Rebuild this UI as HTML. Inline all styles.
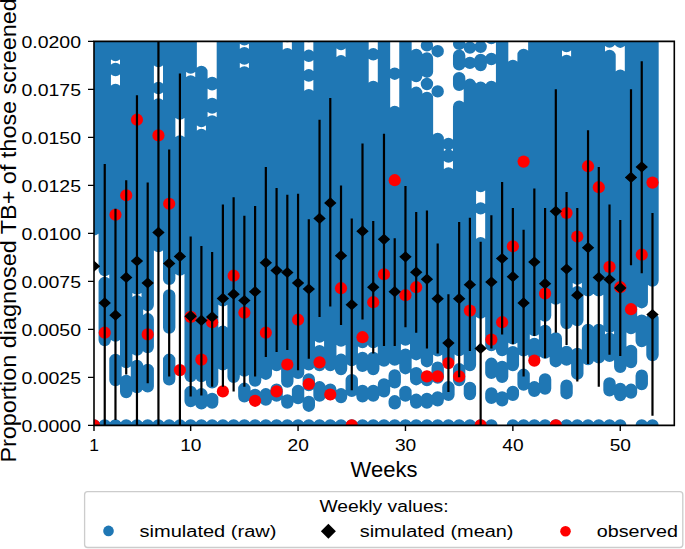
<!DOCTYPE html>
<html><head><meta charset="utf-8">
<style>
html,body{margin:0;padding:0;background:#fff;}
body{width:685px;height:549px;overflow:hidden;}
svg{display:block;}
text{font-family:"Liberation Sans",sans-serif;fill:#000;}
</style></head>
<body>
<svg width="685" height="549" viewBox="0 0 685 549">
<defs><clipPath id="ax"><rect x="94" y="41.4" width="580.3" height="384"/></clipPath></defs>
<rect x="0" y="0" width="685" height="549" fill="#fff"/>
<g clip-path="url(#ax)">
<path d="M94.00 20.0V229.4M104.74 20.0V270.0M104.74 283.0V340.0M115.48 20.0V55.0M115.48 69.0V70.0M115.48 90.0V335.5M115.48 360.0V380.0M126.22 20.0V362.0M126.22 381.0V392.0M136.96 20.0V288.6M136.96 301.3V349.6M136.96 366.0V387.0M147.70 20.0V305.0M147.70 319.3V347.0M147.70 370.0V386.4M158.44 20.0V61.0M158.44 88.0V88.0M158.44 104.5V246.0M169.18 20.0V278.9M169.18 295.4V327.5M169.18 359.8V379.3M179.92 20.0V113.6M179.92 141.4V269.5M190.66 20.0V67.6M190.66 81.4V376.0M190.66 392.0V401.0M201.40 72.0V121.0M201.40 135.0V376.0M201.40 394.3V403.4M212.14 83.0V84.3M212.14 104.0V107.6M212.14 121.4V382.3M212.14 399.0V402.6M222.88 20.0V300.4M222.88 331.8V364.3M233.62 20.0V376.8M244.36 20.0V39.3M244.36 53.1V58.6M244.36 72.4V370.6M244.36 388.8V396.3M255.10 20.0V380.5M255.10 395.0V400.0M265.84 20.0V373.7M265.84 394.3V399.5M276.58 20.0V365.0M276.58 389.6V395.6M287.32 20.0V36.0M287.32 54.2V381.5M287.32 400.5V402.6M298.06 20.0V372.9M298.06 391.0V398.0M308.80 20.0V36.0M308.80 55.8V55.8M308.80 75.3V75.6M308.80 95.1V364.3M308.80 379.4V385.0M308.80 402.0V405.7M319.54 20.0V336.6M319.54 351.2V365.0M319.54 387.3V395.6M330.28 20.0V365.0M330.28 389.6V394.0M341.02 20.0V44.1M341.02 61.3V340.5M341.02 359.8V369.0M341.02 394.3V397.0M351.76 20.0V360.0M351.76 380.2V390.9M362.50 20.0V342.0M362.50 358.0V365.9M362.50 391.0V396.3M373.24 54.3V54.3M373.24 86.9V342.0M373.24 358.0V369.0M373.24 391.0V395.6M383.98 20.0V360.5M383.98 384.5V391.3M394.72 73.7V73.7M394.72 112.0V359.6M394.72 375.5V382.3M394.72 401.3V403.4M405.46 20.0V339.6M405.46 354.7V368.2M405.46 392.0V395.6M416.20 54.9V76.0M416.20 92.8V354.2M416.20 373.2V379.2M416.20 399.8V402.6M426.94 45.4V45.4M426.94 58.5V71.7M426.94 84.0V84.0M426.94 98.0V361.2M426.94 377.0V380.0M426.94 399.0V402.6M437.68 51.2V51.2M437.68 91.4V91.4M437.68 139.0V350.3M437.68 367.7V377.6M437.68 397.4V400.3M448.42 144.0V144.0M448.42 155.4V156.6M448.42 173.4V360.0M448.42 387.3V394.8M459.16 43.9V43.9M459.16 55.6V64.4M459.16 78.2V84.8M459.16 106.7V350.0M459.16 369.3V380.0M469.90 47.6V47.6M469.90 62.9V62.9M469.90 84.8V365.0M469.90 388.0V394.0M480.64 46.8V46.8M480.64 60.0V65.0M480.64 87.7V186.0M480.64 208.4V208.4M480.64 243.1V312.5M491.38 20.0V38.0M491.38 59.0V59.0M491.38 87.0V345.0M491.38 363.8V372.9M491.38 393.5V397.9M502.12 20.0V350.0M502.12 367.0V376.8M502.12 397.4V400.3M512.86 66.0V338.3M512.86 352.2V365.0M512.86 392.0V394.8M523.60 55.0V350.4M523.60 374.8V384.6M534.34 20.0V330.0M534.34 344.0V355.0M534.34 387.3V390.9M545.08 20.0V315.6M545.08 331.0V352.6M545.08 379.4V388.5M555.82 20.0V298.6M555.82 338.5V361.2M566.56 20.0V46.0M566.56 61.0V323.0M566.56 352.0V359.6M566.56 385.7V393.2M577.30 20.0V278.6M577.30 292.1V320.0M577.30 354.0V373.7M588.04 20.0V290.3M588.04 330.0V359.0M598.78 20.0V290.3M598.78 330.0V357.4M609.52 20.0V41.6M609.52 56.0V326.9M609.52 338.6V355.9M609.52 383.5V390.3M620.26 20.0V41.7M620.26 75.6V366.8M620.26 389.0V395.0M631.00 20.0V328.0M631.00 351.0V362.0M631.00 389.8V392.6M641.74 20.0V302.2M641.74 320.6V341.0M641.74 375.7V384.0M652.48 20.0V280.6M652.48 319.0V355.1M104.74 425.4V425.4M115.48 425.4V425.4M126.22 425.4V425.4M136.96 425.4V425.4M147.70 425.4V425.4M158.44 425.4V425.4M169.18 425.4V425.4M179.92 425.4V425.4M190.66 425.4V425.4M201.40 425.4V425.4M212.14 425.4V425.4M222.88 425.4V425.4M233.62 425.4V425.4M244.36 425.4V425.4M255.10 425.4V425.4M265.84 425.4V425.4M276.58 425.4V425.4M287.32 425.4V425.4M298.06 425.4V425.4M308.80 425.4V425.4M319.54 425.4V425.4M330.28 425.4V425.4M341.02 425.4V425.4M351.76 425.4V425.4M362.50 425.4V425.4M373.24 425.4V425.4M383.98 425.4V425.4M394.72 425.4V425.4M405.46 425.4V425.4M416.20 425.4V425.4M426.94 425.4V425.4M437.68 425.4V425.4M448.42 425.4V425.4M459.16 425.4V425.4M469.90 425.4V425.4M480.64 425.4V425.4M491.38 425.4V425.4M512.86 425.4V425.4M523.60 425.4V425.4M534.34 425.4V425.4M545.08 425.4V425.4M555.82 425.4V425.4M566.56 425.4V425.4M577.30 425.4V425.4M588.04 425.4V425.4M598.78 425.4V425.4M609.52 425.4V425.4M620.26 425.4V425.4M641.74 425.4V425.4M652.48 425.4V425.4M94.00 425.4V425.4M351.76 425.4V425.4M480.64 425.4V425.4M555.82 425.4V425.4" stroke="#1f77b4" stroke-width="12.4" stroke-linecap="round" fill="none"/>
<g fill="#ff0000"><circle cx="94.00" cy="425.3" r="6.1"/><circle cx="104.74" cy="332.7" r="6.1"/><circle cx="115.48" cy="214.8" r="6.1"/><circle cx="126.22" cy="195.3" r="6.1"/><circle cx="136.96" cy="119.7" r="6.1"/><circle cx="147.70" cy="334.4" r="6.1"/><circle cx="158.44" cy="135.4" r="6.1"/><circle cx="169.18" cy="203.8" r="6.1"/><circle cx="179.92" cy="370.1" r="6.1"/><circle cx="190.66" cy="316.9" r="6.1"/><circle cx="201.40" cy="359.6" r="6.1"/><circle cx="212.14" cy="322.2" r="6.1"/><circle cx="222.88" cy="391.4" r="6.1"/><circle cx="233.62" cy="275.7" r="6.1"/><circle cx="244.36" cy="312.7" r="6.1"/><circle cx="255.10" cy="400.8" r="6.1"/><circle cx="265.84" cy="332.7" r="6.1"/><circle cx="276.58" cy="391.4" r="6.1"/><circle cx="287.32" cy="364.5" r="6.1"/><circle cx="298.06" cy="319.7" r="6.1"/><circle cx="308.80" cy="384.0" r="6.1"/><circle cx="319.54" cy="362.4" r="6.1"/><circle cx="330.28" cy="394.5" r="6.1"/><circle cx="341.02" cy="288.2" r="6.1"/><circle cx="351.76" cy="425.3" r="6.1"/><circle cx="362.50" cy="337.2" r="6.1"/><circle cx="373.24" cy="302.2" r="6.1"/><circle cx="383.98" cy="274.3" r="6.1"/><circle cx="394.72" cy="180.2" r="6.1"/><circle cx="405.46" cy="295.2" r="6.1"/><circle cx="416.20" cy="287.2" r="6.1"/><circle cx="426.94" cy="376.4" r="6.1"/><circle cx="437.68" cy="376.4" r="6.1"/><circle cx="448.42" cy="363.1" r="6.1"/><circle cx="459.16" cy="376.4" r="6.1"/><circle cx="469.90" cy="310.6" r="6.1"/><circle cx="480.64" cy="425.3" r="6.1"/><circle cx="491.38" cy="339.6" r="6.1"/><circle cx="502.12" cy="322.2" r="6.1"/><circle cx="512.86" cy="246.3" r="6.1"/><circle cx="523.60" cy="161.6" r="6.1"/><circle cx="534.34" cy="360.6" r="6.1"/><circle cx="545.08" cy="293.5" r="6.1"/><circle cx="555.82" cy="425.3" r="6.1"/><circle cx="566.56" cy="213.0" r="6.1"/><circle cx="577.30" cy="236.5" r="6.1"/><circle cx="588.04" cy="166.2" r="6.1"/><circle cx="598.78" cy="187.2" r="6.1"/><circle cx="609.52" cy="266.9" r="6.1"/><circle cx="620.26" cy="287.2" r="6.1"/><circle cx="631.00" cy="309.2" r="6.1"/><circle cx="641.74" cy="254.7" r="6.1"/><circle cx="652.48" cy="182.6" r="6.1"/></g>
<path d="M104.74 164.1V425.3M115.48 208.8V420.0M126.22 180.2V374.6M136.96 95.2V425.3M147.70 182.6V383.3M158.44 41.0V425.3M169.18 149.4V376.4M179.92 73.5V425.3M190.66 236.4V396.4M201.40 246.0V395.6M212.14 252.0V386.8M222.88 204.6V386.8M233.62 197.3V391.4M244.36 215.8V386.8M255.10 206.0V376.4M265.84 166.9V357.1M276.58 187.9V351.9M287.32 194.8V350.1M298.06 193.8V370.2M308.80 219.3V358.8M319.54 119.7V316.9M330.28 98.0V306.4M341.02 185.4V325.0M351.76 218.6V390.3M362.50 143.4V319.5M373.24 221.0V353.5M383.98 133.7V345.9M394.72 238.2V345.9M405.46 186.1V327.3M416.20 212.0V332.8M426.94 210.4V348.4M437.68 243.5V353.6M448.42 294.2V392.1M459.16 222.0V377.2M469.90 217.7V351.1M480.64 241.7V425.3M491.38 215.2V348.4M502.12 181.9V334.4M512.86 208.1V344.2M523.60 229.8V376.4M534.34 188.6V336.1M545.08 208.1V358.2M555.82 89.3V332.7M566.56 192.0V344.9M577.30 208.1V381.6M588.04 130.2V364.1M598.78 166.9V386.8M609.52 204.6V354.7M620.26 220.0V356.1M631.00 89.3V265.2M641.74 61.3V273.2M652.48 213.0V415.8" stroke="#000" stroke-width="2.2" fill="none"/>
<path d="M94.00 260.6L100.20 266.2L94.00 271.8L87.80 266.2ZM104.74 297.3L110.94 302.9L104.74 308.5L98.54 302.9ZM115.48 309.6L121.68 315.2L115.48 320.8L109.28 315.2ZM126.22 271.8L132.42 277.4L126.22 283.0L120.02 277.4ZM136.96 255.4L143.16 261.0L136.96 266.6L130.76 261.0ZM147.70 277.4L153.90 283.0L147.70 288.6L141.50 283.0ZM158.44 226.8L164.64 232.4L158.44 238.0L152.24 232.4ZM169.18 257.8L175.38 263.4L169.18 269.0L162.98 263.4ZM179.92 250.8L186.12 256.4L179.92 262.0L173.72 256.4ZM190.66 310.6L196.86 316.2L190.66 321.8L184.46 316.2ZM201.40 314.8L207.60 320.4L201.40 326.0L195.20 320.4ZM212.14 311.3L218.34 316.9L212.14 322.5L205.94 316.9ZM222.88 292.8L229.08 298.4L222.88 304.0L216.68 298.4ZM233.62 288.6L239.82 294.2L233.62 299.8L227.42 294.2ZM244.36 294.9L250.56 300.5L244.36 306.1L238.16 300.5ZM255.10 286.1L261.30 291.7L255.10 297.3L248.90 291.7ZM265.84 257.1L272.04 262.7L265.84 268.3L259.64 262.7ZM276.58 264.8L282.78 270.4L276.58 276.0L270.38 270.4ZM287.32 266.9L293.52 272.5L287.32 278.1L281.12 272.5ZM298.06 277.4L304.26 283.0L298.06 288.6L291.86 283.0ZM308.80 283.4L315.00 289.0L308.80 294.6L302.60 289.0ZM319.54 212.8L325.74 218.4L319.54 224.0L313.34 218.4ZM330.28 197.3L336.48 202.9L330.28 208.5L324.08 202.9ZM341.02 250.1L347.22 255.7L341.02 261.3L334.82 255.7ZM351.76 299.1L357.96 304.7L351.76 310.3L345.56 304.7ZM362.50 225.6L368.70 231.2L362.50 236.8L356.30 231.2ZM373.24 281.6L379.44 287.2L373.24 292.8L367.04 287.2ZM383.98 233.7L390.18 239.3L383.98 244.9L377.78 239.3ZM394.72 286.1L400.92 291.7L394.72 297.3L388.52 291.7ZM405.46 251.2L411.66 256.8L405.46 262.4L399.26 256.8ZM416.20 266.6L422.40 272.2L416.20 277.8L410.00 272.2ZM426.94 273.6L433.14 279.2L426.94 284.8L420.74 279.2ZM437.68 293.1L443.88 298.7L437.68 304.3L431.48 298.7ZM448.42 337.5L454.62 343.1L448.42 348.7L442.22 343.1ZM459.16 293.1L465.36 298.7L459.16 304.3L452.96 298.7ZM469.90 279.1L476.10 284.7L469.90 290.3L463.70 284.7ZM480.64 342.8L486.84 348.4L480.64 354.0L474.44 348.4ZM491.38 276.4L497.58 282.0L491.38 287.6L485.18 282.0ZM502.12 252.9L508.32 258.5L502.12 264.1L495.92 258.5ZM512.86 271.1L519.06 276.7L512.86 282.3L506.66 276.7ZM523.60 297.3L529.80 302.9L523.60 308.5L517.40 302.9ZM534.34 256.4L540.54 262.0L534.34 267.6L528.14 262.0ZM545.08 278.1L551.28 283.7L545.08 289.3L538.88 283.7ZM555.82 205.7L562.02 211.3L555.82 216.9L549.62 211.3ZM566.56 263.4L572.76 269.0L566.56 274.6L560.36 269.0ZM577.30 289.6L583.50 295.2L577.30 300.8L571.10 295.2ZM588.04 242.1L594.24 247.7L588.04 253.3L581.84 247.7ZM598.78 271.8L604.98 277.4L598.78 283.0L592.58 277.4ZM609.52 273.9L615.72 279.5L609.52 285.1L603.32 279.5ZM620.26 282.3L626.46 287.9L620.26 293.5L614.06 287.9ZM631.00 171.8L637.20 177.4L631.00 183.0L624.80 177.4ZM641.74 161.3L647.94 166.9L641.74 172.5L635.54 166.9ZM652.48 308.9L658.68 314.5L652.48 320.1L646.28 314.5Z" fill="#000"/>
</g>
<!-- spines -->
<path d="M94 40.6V426.2M674.3 40.6V426.2M93.2 41.4H675.1M93.2 425.4H675.1" stroke="#000" stroke-width="1.6" fill="none"/>
<!-- y ticks -->
<path d="M88.0 425.4H94M88.0 377.4H94M88.0 329.4H94M88.0 281.4H94M88.0 233.4H94M88.0 185.4H94M88.0 137.4H94M88.0 89.4H94M88.0 41.4H94" stroke="#000" stroke-width="1.4"/>
<!-- x ticks -->
<path d="M94 425.3V430.9M190.66 425.3V430.9M298.06 425.3V430.9M405.46 425.3V430.9M512.86 425.3V430.9M620.26 425.3V430.9" stroke="#000" stroke-width="1.4"/>
<g font-size="17.4" text-anchor="end">
<text x="81.0" y="432.1" textLength="59.6" lengthAdjust="spacingAndGlyphs">0.0000</text>
<text x="81.0" y="384.1" textLength="59.6" lengthAdjust="spacingAndGlyphs">0.0025</text>
<text x="81.0" y="336.1" textLength="59.6" lengthAdjust="spacingAndGlyphs">0.0050</text>
<text x="81.0" y="288.1" textLength="59.6" lengthAdjust="spacingAndGlyphs">0.0075</text>
<text x="81.0" y="240.0" textLength="59.6" lengthAdjust="spacingAndGlyphs">0.0100</text>
<text x="81.0" y="192.0" textLength="59.6" lengthAdjust="spacingAndGlyphs">0.0125</text>
<text x="81.0" y="144.0" textLength="59.6" lengthAdjust="spacingAndGlyphs">0.0150</text>
<text x="81.0" y="96.0" textLength="59.6" lengthAdjust="spacingAndGlyphs">0.0175</text>
<text x="81.0" y="48.0" textLength="59.6" lengthAdjust="spacingAndGlyphs">0.0200</text>
</g>
<g font-size="17.4" text-anchor="middle">
<text x="94" y="450.7">1</text>
<text x="190.8" y="450.7" textLength="21.3" lengthAdjust="spacingAndGlyphs">10</text>
<text x="298.16" y="450.7" textLength="21.3" lengthAdjust="spacingAndGlyphs">20</text>
<text x="405.56" y="450.7" textLength="21.3" lengthAdjust="spacingAndGlyphs">30</text>
<text x="512.96" y="450.7" textLength="21.3" lengthAdjust="spacingAndGlyphs">40</text>
<text x="620.36" y="450.7" textLength="21.3" lengthAdjust="spacingAndGlyphs">50</text>
</g>
<text x="384" y="476.5" font-size="21.8" text-anchor="middle" textLength="66.8" lengthAdjust="spacingAndGlyphs">Weeks</text>
<text transform="translate(16.4,230.4) rotate(-90)" font-size="21.8" text-anchor="middle" textLength="464.4" lengthAdjust="spacingAndGlyphs">Proportion diagnosed TB+ of those screened</text>
<!-- legend -->
<rect x="84.6" y="491.7" width="598.2" height="55.8" rx="3" ry="3" fill="#fff" fill-opacity="0.8" stroke="#cccccc" stroke-width="1.33"/>
<text x="384" y="511.8" font-size="17.3" text-anchor="middle" textLength="129.2" lengthAdjust="spacingAndGlyphs">Weekly values:</text>
<circle cx="108.5" cy="530.9" r="5.3" fill="#1f77b4"/>
<text x="139.6" y="537.2" font-size="17.3" textLength="136.8" lengthAdjust="spacingAndGlyphs">simulated (raw)</text>
<path d="M328.4 523.8L335.9 531.3L328.4 538.8L320.9 531.3Z" fill="#000"/>
<text x="359.7" y="537.2" font-size="17.3" textLength="153.8" lengthAdjust="spacingAndGlyphs">simulated (mean)</text>
<circle cx="565.5" cy="531.2" r="5.3" fill="#ff0000"/>
<text x="596.8" y="537.2" font-size="17.3" textLength="81.1" lengthAdjust="spacingAndGlyphs">observed</text>
</svg>
</body></html>
